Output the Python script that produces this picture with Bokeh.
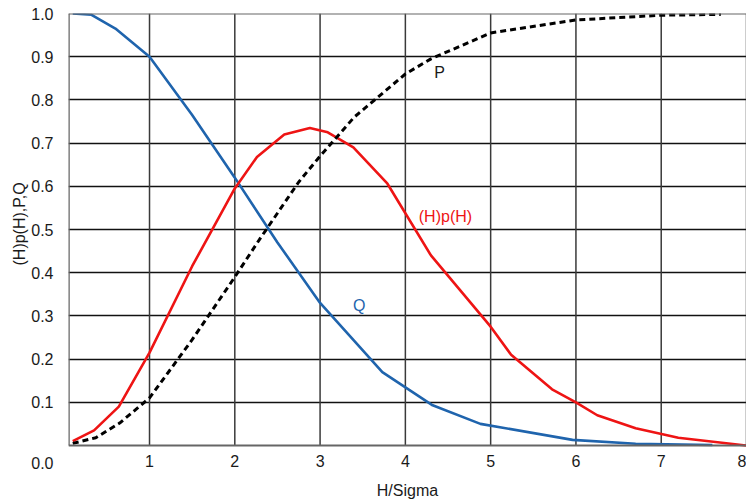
from bokeh.plotting import figure
from bokeh.models import FixedTicker, Range1d, Label, PrintfTickFormatter, Span, Title
from bokeh.embed import file_html
from bokeh.resources import INLINE

# Q (blue)
q_x = [0.1, 0.32, 0.6, 1.0, 1.5, 2.0, 2.5, 3.0, 3.73, 4.32, 4.88, 5.96, 6.7, 7.6]
q_y = [1.0, 0.997, 0.965, 0.90, 0.765, 0.62, 0.47, 0.33, 0.17, 0.093, 0.05, 0.013, 0.004, 0.001]

# (H)p(H) (red)
hp_x = [0.1, 0.35, 0.64, 1.0, 1.5, 2.0, 2.26, 2.58, 2.88, 3.09, 3.39, 3.79, 4.3, 5.0, 5.24, 5.72, 6.0, 6.25, 6.7, 7.2, 8.0]
hp_y = [0.01, 0.035, 0.09, 0.215, 0.415, 0.595, 0.668, 0.72, 0.735, 0.725, 0.69, 0.606, 0.44, 0.275, 0.21, 0.13, 0.10, 0.07, 0.04, 0.018, 0.0]

# P (black dashed)
p_x = [0.1, 0.37, 0.65, 1.0, 1.5, 2.0, 2.3, 2.75, 3.0, 3.4, 3.7, 4.0, 4.3, 5.0, 6.0, 7.0, 7.7]
p_y = [0.005, 0.018, 0.052, 0.11, 0.245, 0.39, 0.48, 0.61, 0.67, 0.76, 0.81, 0.86, 0.895, 0.955, 0.985, 0.996, 0.998]

x_ticks = [1, 2, 3, 4, 5, 6, 7, 8]
y_ticks = [0.1, 0.2, 0.3, 0.4, 0.5, 0.6, 0.7, 0.8, 0.9, 1.0]
origin_label_pos = -0.04   # the "0.0" label sits level with the x tick labels
x_start, x_end = 0.05, 8.0
y_start, y_end = 0.0, 1.0

FONT = "Liberation Sans"
FS = "16px"
TXT = "#1a1a1a"
BORDER = "#666666"

p = figure(width=746, height=503, output_backend="svg", toolbar_location=None,
           x_range=Range1d(x_start, x_end), y_range=Range1d(-0.0625, y_end),
           min_border_left=68, min_border_right=0, min_border_top=13, min_border_bottom=31)
p.outline_line_color = None

p.xaxis.ticker = FixedTicker(ticks=x_ticks)
p.yaxis.ticker = FixedTicker(ticks=[origin_label_pos] + y_ticks)
p.yaxis.formatter = PrintfTickFormatter(format="%.1f")
p.yaxis.major_label_overrides = {origin_label_pos: "0.0"}
for ax in (p.xaxis[0], p.yaxis[0]):
    ax.axis_line_color = None
    ax.major_tick_line_color = None
    ax.minor_tick_line_color = None
    ax.major_tick_out = 0
    ax.major_tick_in = 0
    ax.major_label_text_font = FONT
    ax.major_label_text_font_size = FS
    ax.major_label_text_color = TXT
    ax.axis_label_text_font = FONT
    ax.axis_label_text_font_size = FS
    ax.axis_label_text_font_style = "normal"
    ax.axis_label_text_color = TXT

p.xaxis.axis_label = "H/Sigma"
p.xaxis.major_label_standoff = -18
p.xaxis.axis_label_standoff = 12
p.yaxis.major_label_standoff = 15

ytitle = Title(text="(H)p(H),P,Q", align="left", offset=207, standoff=2,
               text_font=FONT, text_font_size=FS, text_font_style="normal", text_color=TXT)
p.add_layout(ytitle, "left")

p.xgrid.visible = False
p.ygrid.ticker = FixedTicker(ticks=y_ticks[:-1])
p.ygrid.grid_line_color = "#111111"
p.ygrid.grid_line_width = 1.5

# vertical grid lines and plot-area border
p.segment(x0=x_ticks, y0=[y_start] * len(x_ticks), x1=x_ticks, y1=[y_end] * len(x_ticks),
          line_color="#3a3a3a", line_width=1.5)
p.segment(x0=[x_start], y0=[y_start], x1=[x_start], y1=[y_end], line_color=BORDER, line_width=2.5)
p.add_layout(Span(location=y_end, dimension="width", line_color=BORDER, line_width=2))
p.add_layout(Span(location=y_start, dimension="width", line_color=BORDER, line_width=2))

p.line(q_x, q_y, line_color="#1f64ad", line_width=2.6)
p.line(hp_x, hp_y, line_color="#ee1414", line_width=2.6)
p.line(p_x, p_y, line_color="black", line_width=3, line_dash="6 4")

p.add_layout(Label(x=4.4, y=0.863, text="P", text_font=FONT, text_font_size=FS,
                   text_color=TXT, text_align="center", text_baseline="middle"))
p.add_layout(Label(x=4.47, y=0.53, text="(H)p(H)", text_font=FONT, text_font_size=FS,
                   text_color="#ee1414", text_align="center", text_baseline="middle"))
p.add_layout(Label(x=3.46, y=0.324, text="Q", text_font=FONT, text_font_size=FS,
                   text_color="#1f64ad", text_align="center", text_baseline="middle"))

open("out.html", "w").write(file_html(p, INLINE))
